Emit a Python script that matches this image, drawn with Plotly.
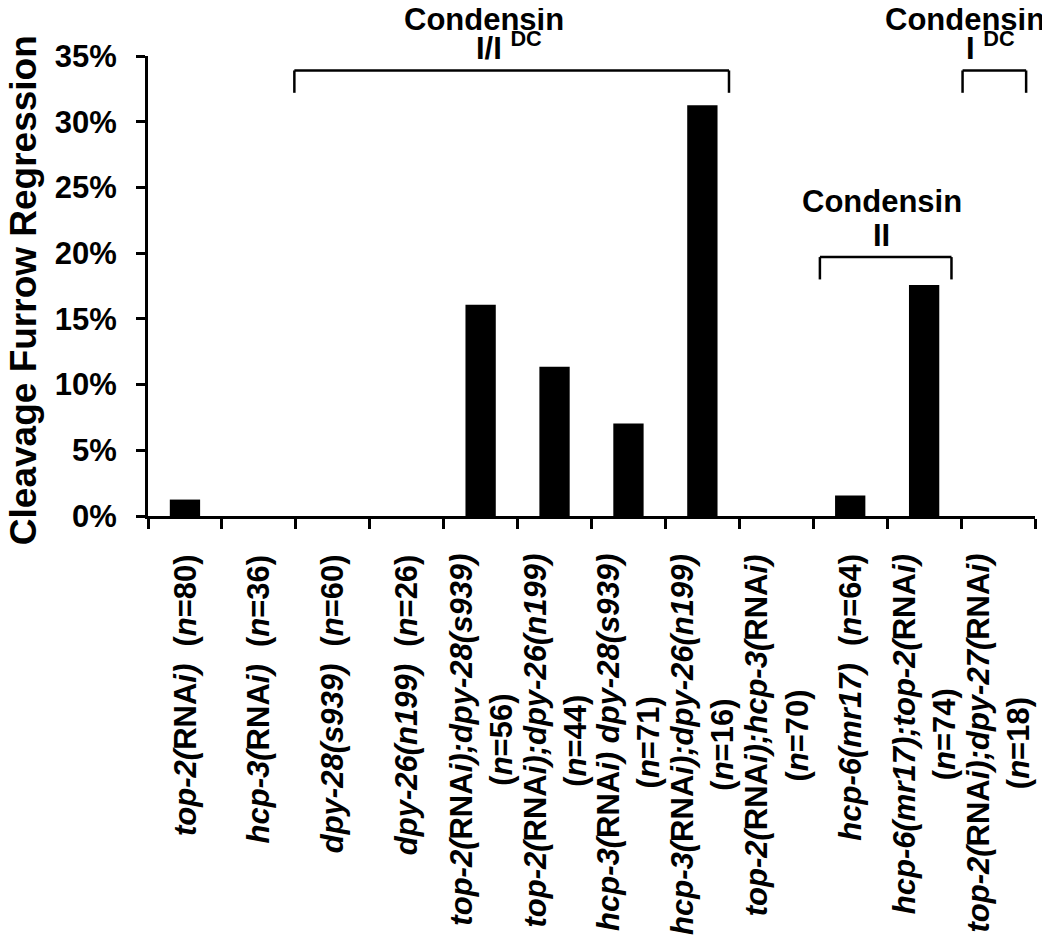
import numpy as np
import plotly.graph_objects as go

# ---------------- data ----------------
genotypes = [
    "top-2(RNAi)", "hcp-3(RNAi)", "dpy-28(s939)", "dpy-26(n199)",
    "top-2(RNAi);dpy-28(s939)", "top-2(RNAi);dpy-26(n199)",
    "hcp-3(RNAi) dpy-28(s939)", "hcp-3(RNAi);dpy-26(n199)",
    "top-2(RNAi);hcp-3(RNAi)", "hcp-6(mr17)", "hcp-6(mr17);top-2(RNAi)",
    "top-2(RNAi);dpy-27(RNAi)",
]
n_embryos = [80, 36, 60, 26, 56, 44, 71, 16, 70, 64, 74, 18]
regression_pct = [1.25, 0, 0, 0, 16.07, 11.36, 7.04, 31.25, 0, 1.56, 17.57, 0]

y_ticks = [0, 5, 10, 15, 20, 25, 30, 35]
y_tick_text = ["%d%%" % v for v in y_ticks]
y_title = "Cleavage Furrow Regression"

# condensin group brackets (category index units / percent units)
group_title = ["Condensin", "Condensin", "Condensin"]
group_sub = ["I/I <sup>DC</sup>", "II", "I <sup>DC</sup>"]
group_start = [1.48, 8.59, 10.52]
group_end = [7.36, 10.37, 11.38]
group_top = [33.9, 19.7, 33.9]
group_bottom = [32.2, 18.0, 32.2]
group_title_x = [4.05, 9.43, 10.55]
group_title_y = [37.75, 23.9, 37.75]
group_sub_x = [4.39, 9.43, 10.9]
group_sub_y = [34.1, 19.86, 34.1]

# ---------------- figure ----------------
FONT = "Liberation Sans, Arial, sans-serif"
PAGE_OFFSET = 8  # default body margin of the html page
W, H = 1050 - PAGE_OFFSET, 948 - PAGE_OFFSET
M_L, M_R, M_T, M_B = 148 - PAGE_OFFSET, 15, 56 - PAGE_OFFSET, 432
Y_MAX = 35
px_per_unit = (H - M_T - M_B) / Y_MAX
x_pos = np.arange(len(genotypes))


def fmt_label(g, n):
    g_html = "<i>" + g.replace("RNAi", "</i>RNA<i>i") + "</i>"
    n_html = "(<i>n</i>=%d)" % n
    if len(g) > 13:
        return g_html + "<br>" + n_html
    return g_html + "&nbsp; " + n_html


def yref_pos(v):
    # keep annotation anchored inside the axis range, shift outward in pixels
    if v <= Y_MAX:
        return v, 0
    return Y_MAX, (v - Y_MAX) * px_per_unit


fig = go.Figure()
fig.add_trace(go.Bar(
    x=x_pos, y=regression_pct,
    marker=dict(color="black", line=dict(width=0)),
    hovertext=genotypes,
))

annotations = []
for i, (g, n) in enumerate(zip(genotypes, n_embryos)):
    annotations.append(dict(
        x=i, xref="x", y=0, yref="paper", yshift=-36,
        text=fmt_label(g, n), textangle=-90, showarrow=False,
        xanchor="center", yanchor="top", align="center",
        font=dict(family=FONT, size=31, color="black", weight="bold"),
    ))

annotations.append(dict(
    x=0, xref="paper", xshift=-125, y=0.491, yref="paper",
    text=y_title, textangle=-90, showarrow=False,
    xanchor="center", yanchor="middle",
    font=dict(family=FONT, size=37, color="black", weight="bold"),
))

shapes = []
for k in range(len(group_title)):
    x0, x1 = group_start[k], group_end[k]
    yt, yb = group_top[k], group_bottom[k]
    for (a, b, c, d) in [(x0, yb, x0, yt), (x0, yt, x1, yt), (x1, yt, x1, yb)]:
        shapes.append(dict(type="line", xref="x", yref="y", x0=a, y0=b, x1=c, y1=d,
                           line=dict(color="black", width=2.5)))
    ty, tshift = yref_pos(group_title_y[k])
    annotations.append(dict(
        x=group_title_x[k], xref="x", y=ty, yref="y", yshift=tshift,
        text=group_title[k], showarrow=False, xanchor="center", yanchor="middle",
        font=dict(family=FONT, size=31, color="black", weight="bold"),
    ))
    sy, sshift = yref_pos(group_sub_y[k])
    annotations.append(dict(
        x=group_sub_x[k], xref="x", y=sy, yref="y", yshift=sshift,
        text=group_sub[k], showarrow=False, xanchor="center", yanchor="bottom",
        font=dict(family=FONT, size=31, color="black", weight="bold"),
    ))

fig.update_layout(
    width=W, height=H,
    margin=dict(l=M_L, r=M_R, t=M_T, b=M_B, autoexpand=False),
    paper_bgcolor="white", plot_bgcolor="white",
    showlegend=False, bargap=0.59,
    annotations=annotations, shapes=shapes,
)
fig.update_xaxes(
    range=[-0.5, len(genotypes) - 0.5],
    tickvals=np.arange(len(genotypes) + 1) - 0.5,
    showticklabels=False, ticks="outside", ticklen=10, tickwidth=3, tickcolor="black",
    showline=True, linewidth=3, linecolor="black", showgrid=False, zeroline=False,
    automargin=False,
)
fig.update_yaxes(
    range=[0, Y_MAX], tickvals=y_ticks, ticktext=y_tick_text,
    ticks="outside", ticklen=9, tickwidth=3, tickcolor="black",
    ticklabelstandoff=13,
    showline=True, linewidth=3, linecolor="black", showgrid=False, zeroline=False,
    tickfont=dict(family=FONT, size=31, color="black", weight="bold"),
    automargin=False,
)

fig.write_html("out.html")
